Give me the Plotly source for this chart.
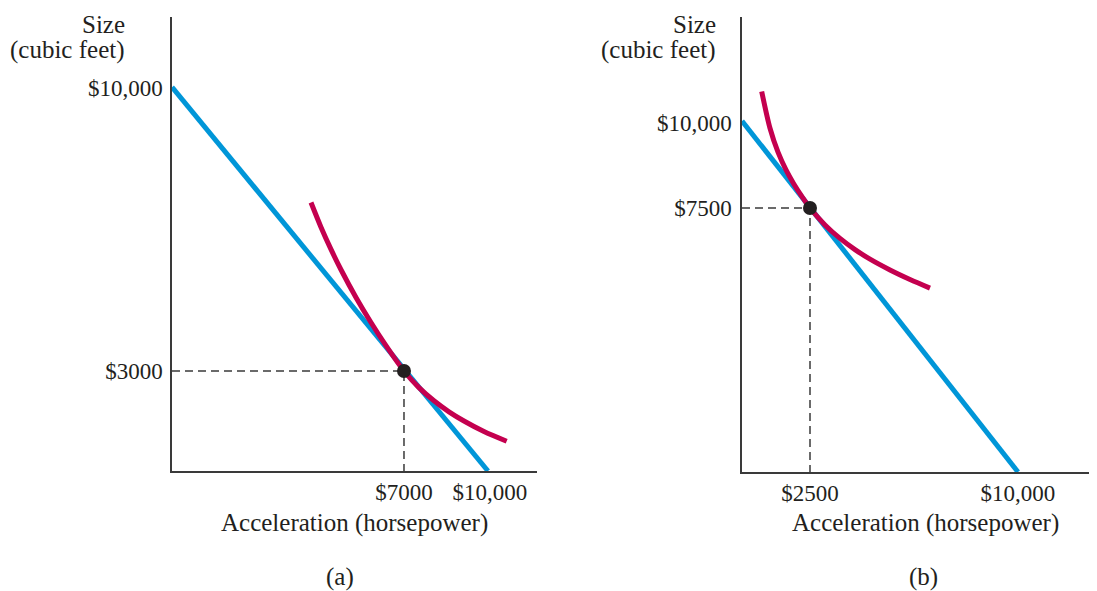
import plotly.graph_objects as go

# ---------------- data ----------------
# Panel (a)
a_x_range = [-1093, 11640]
a_y_range = [527, 11756]
a_budget_x = [-1093, 9930]
a_budget_y = [10020, 527]
a_indiff_x = [3756, 4105, 4454, 4803, 5326, 5849, 6372, 7000, 7523, 8046, 8570, 9093, 9790, 10582]
a_indiff_y = [7167, 6556, 6007, 5505, 4820, 4199, 3626, 3000, 2589, 2263, 1991, 1764, 1504, 1264]
a_choice = (7000, 3000)
a_xticks = [7000, 10000]
a_xticktext = ["$7000", "$10,000"]
a_yticks = [10000, 3000]
a_yticktext = ["$10,000", "$3000"]

# Panel (b)
b_x_range = [48, 12669]
b_y_range = [-264, 13117]
b_budget_x = [48, 10000]
b_budget_y = [10060, -264]
b_indiff_x = [758, 1058, 1346, 1635, 1923, 2212, 2500, 3041, 3582, 4123, 4664, 5385, 6106, 6827]
b_indiff_y = [10926, 9844, 9141, 8621, 8200, 7835, 7500, 7003, 6606, 6277, 5994, 5677, 5397, 5144]
b_choice = (2500, 7500)
b_xticks = [2500, 10000]
b_xticktext = ["$2500", "$10,000"]
b_yticks = [10000, 7500]
b_yticktext = ["$10,000", "$7500"]

y_title_lines = ["Size", "(cubic feet)"]
x_title = "Acceleration (horsepower)"
panel_labels = ["(a)", "(b)"]

# ---------------- styles ----------------
OFF = 8                      # page body margin
W, H = 1097 - OFF, 591 - OFF
FONT = "Liberation Serif, Times New Roman, serif"
TXT = "#231f20"
AXC = "#3a3a3a"
BLUE = "#0096d8"
RED = "#c4004f"
FS_TICK = 23
FS_LBL = 25


def px_x(p):
    return (p - OFF) / W


def px_y(p):
    return 1 - (p - OFF) / H


fig = go.Figure()


def panel(xa, ya, bx, by, ix, iy, choice, xr, yr):
    fig.add_trace(go.Scatter(x=[xr[0], choice[0], choice[0]], y=[choice[1], choice[1], yr[0]],
                             mode="lines", line=dict(color=AXC, width=1.5, dash="8px,5px"),
                             xaxis=xa, yaxis=ya, hoverinfo="skip"))
    fig.add_trace(go.Scatter(x=bx, y=by, mode="lines", line=dict(color=BLUE, width=5),
                             xaxis=xa, yaxis=ya))
    fig.add_trace(go.Scatter(x=ix, y=iy, mode="lines",
                             line=dict(color=RED, width=5, shape="spline", smoothing=0.8),
                             xaxis=xa, yaxis=ya))
    fig.add_trace(go.Scatter(x=[choice[0]], y=[choice[1]], mode="markers",
                             marker=dict(color=TXT, size=14), xaxis=xa, yaxis=ya,
                             cliponaxis=False))


panel("x", "y", a_budget_x, a_budget_y, a_indiff_x, a_indiff_y, a_choice, a_x_range, a_y_range)
panel("x2", "y2", b_budget_x, b_budget_y, b_indiff_x, b_indiff_y, b_choice, b_x_range, b_y_range)


def axis(domain, rng, tv, tt, anchor, standoff):
    return dict(domain=domain, range=rng, anchor=anchor, showgrid=False, zeroline=False,
                showline=True, linecolor=AXC, linewidth=1.5, tickvals=tv, ticktext=tt,
                ticks="", tickfont=dict(family=FONT, size=FS_TICK, color=TXT),
                ticklabelstandoff=standoff, fixedrange=True)


annotations = []
for xr_px, cx in [(127, 354), (718, 925)]:
    annotations.append(dict(x=px_x(xr_px), y=px_y(24), xref="paper", yref="paper",
                            text=y_title_lines[0], showarrow=False, xanchor="right",
                            yanchor="middle", font=dict(family=FONT, size=FS_LBL, color=TXT)))
    annotations.append(dict(x=px_x(xr_px), y=px_y(50), xref="paper", yref="paper",
                            text=y_title_lines[1], showarrow=False, xanchor="right",
                            yanchor="middle", font=dict(family=FONT, size=FS_LBL, color=TXT)))
    annotations.append(dict(x=px_x(cx), y=px_y(523), xref="paper", yref="paper",
                            text=x_title, showarrow=False, xanchor="center",
                            yanchor="middle", font=dict(family=FONT, size=FS_LBL, color=TXT)))
for lbl, cx in zip(panel_labels, [340, 923]):
    annotations.append(dict(x=px_x(cx), y=px_y(577), xref="paper", yref="paper",
                            text=lbl, showarrow=False, xanchor="center",
                            yanchor="middle", font=dict(family=FONT, size=FS_LBL, color=TXT)))

fig.update_layout(
    width=W, height=H,
    margin=dict(l=0, r=0, t=0, b=0, autoexpand=False),
    paper_bgcolor="white", plot_bgcolor="white",
    showlegend=False,
    xaxis=axis([px_x(172), px_x(537)], a_x_range, a_xticks, a_xticktext, "y", 0),
    yaxis=axis([px_y(471), px_y(17)], a_y_range, a_yticks, a_yticktext, "x", 3),
    xaxis2=axis([px_x(742), px_x(1092)], b_x_range, b_xticks, b_xticktext, "y2", 0),
    yaxis2=axis([px_y(472), px_y(17)], b_y_range, b_yticks, b_yticktext, "x2", 4),
    annotations=annotations,
)

fig.write_html("out.html")
